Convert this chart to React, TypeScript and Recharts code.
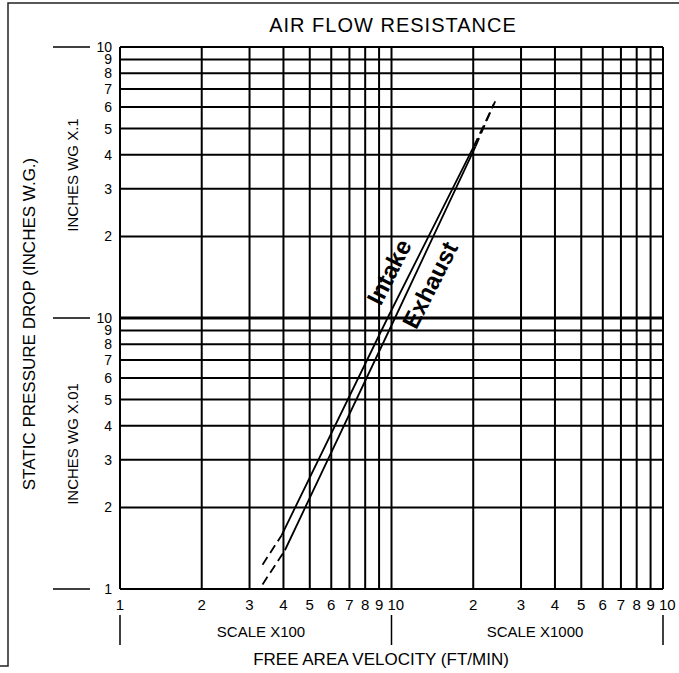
import React from "react";
import { LineChart, Line, XAxis, YAxis, ReferenceLine } from "recharts";

// free area velocity (ft/min), log scale, two decades
const xTicks = [100, 200, 300, 400, 500, 600, 700, 800, 900, 1000, 2000, 3000, 4000, 5000, 6000, 7000, 8000, 9000, 10000];
const xTickLabels = ["1", "2", "3", "4", "5", "6", "7", "8", "9", "10", "2", "3", "4", "5", "6", "7", "8", "9", "10"];
const xDecades = [100, 1000, 10000];

// static pressure drop (in. W.G.), log scale, two decades
const yTicks = [0.01, 0.02, 0.03, 0.04, 0.05, 0.06, 0.07, 0.08, 0.09, 0.1, 0.2, 0.3, 0.4, 0.5, 0.6, 0.7, 0.8, 0.9, 1];
const yTickLabels = ["1", "2", "3", "4", "5", "6", "7", "8", "9", "10", "2", "3", "4", "5", "6", "7", "8", "9", "10"];
const yDecades = [0.01, 0.1, 1];

const intakeLow = [{ v: 335, p: 0.0123 }, { v: 394, p: 0.0158 }];
const intakeSolid = [{ v: 394, p: 0.0158 }, { v: 967, p: 0.1 }, { v: 2010, p: 0.43 }];
const intakeHigh = [{ v: 2010, p: 0.43 }, { v: 2410, p: 0.63 }];

const exhaustLow = [{ v: 335, p: 0.0104 }, { v: 405, p: 0.0139 }];
const exhaustSolid = [{ v: 405, p: 0.0139 }, { v: 1030, p: 0.1 }, { v: 2040, p: 0.43 }];
const exhaustHigh = [{ v: 2040, p: 0.43 }, { v: 2380, p: 0.615 }];

const FONT = "'Liberation Sans', Arial, sans-serif";
const INK = "#000";

function XTick(props: any) {
  const { x, y, payload } = props;
  const label = xTickLabels[xTicks.indexOf(payload.value)];
  const ten = label === "10";
  return (
    <g>
      <text
        x={ten ? x - 4 : x}
        y={y + 21}
        textAnchor={ten ? "start" : "middle"}
        fontSize={15}
        fontFamily={FONT}
        fill={INK}
      >
        {label}
      </text>
      {xDecades.includes(payload.value) && (
        <line x1={x} x2={x} y1={y + 26} y2={y + 56} stroke={INK} strokeWidth={1.5} />
      )}
    </g>
  );
}

function YTick(props: any) {
  const { x, y, payload } = props;
  const label = yTickLabels[yTicks.indexOf(payload.value)];
  return (
    <g>
      <text x={x - 8} y={y} dy="0.36em" textAnchor="end" fontSize={14} fontFamily={FONT} fill={INK}>
        {label}
      </text>
      {yDecades.includes(payload.value) && (
        <line x1={x - 67} x2={x - 30} y1={y} y2={y} stroke={INK} strokeWidth={1.5} />
      )}
    </g>
  );
}

function Overlay() {
  return (
    <svg
      width={679}
      height={673}
      style={{ position: "absolute", left: 0, top: 0, pointerEvents: "none" }}
      fontFamily={FONT}
    >
      <path d="M0,666 H8 V3 H679" fill="none" stroke="#222" strokeWidth={1.5} />
      <text x={393} y={32} textAnchor="middle" fontSize={20} letterSpacing={1} fill={INK}>
        AIR FLOW RESISTANCE
      </text>
      <text x={35} y={324} textAnchor="middle" fontSize={17} fill={INK} transform="rotate(-90 35 324)">
        STATIC PRESSURE DROP (INCHES W.G.)
      </text>
      <text x={78} y={175} textAnchor="middle" fontSize={15} fill={INK} transform="rotate(-90 78 175)">
        INCHES WG X.1
      </text>
      <text x={78} y={444} textAnchor="middle" fontSize={15} fill={INK} transform="rotate(-90 78 444)">
        INCHES WG X.01
      </text>
      <text x={261} y={637} textAnchor="middle" fontSize={15} fill={INK}>
        SCALE X100
      </text>
      <text x={535} y={637} textAnchor="middle" fontSize={15} fill={INK}>
        SCALE X1000
      </text>
      <text x={381} y={665} textAnchor="middle" fontSize={17} fill={INK}>
        FREE AREA VELOCITY (FT/MIN)
      </text>
      <text
        x={389}
        y={272}
        dy="0.35em"
        textAnchor="middle"
        fontSize={24}
        fontWeight="bold"
        fill={INK}
        transform="rotate(-63 389 272)"
      >
        Intake
      </text>
      <text
        x={430}
        y={285}
        dy="0.35em"
        textAnchor="middle"
        fontSize={24}
        fontWeight="bold"
        fill={INK}
        transform="rotate(-63 430 285)"
      >
        Exhaust
      </text>
    </svg>
  );
}

const lineProps = {
  dataKey: "p",
  type: "linear" as const,
  stroke: INK,
  strokeWidth: 1.8,
  dot: false,
  activeDot: false,
  isAnimationActive: false,
};

export default function App() {
  return (
    <div style={{ position: "absolute", left: 0, top: 0, width: 679, height: 673, background: "#fff" }}>
      <LineChart width={679} height={673} margin={{ top: 47, right: 16, bottom: 4, left: 60 }}>
        <XAxis
          dataKey="v"
          type="number"
          scale="log"
          domain={[100, 10000]}
          ticks={xTicks}
          interval={0}
          height={80}
          axisLine={false}
          tickLine={false}
          tickSize={0}
          tickMargin={0}
          tick={<XTick />}
          allowDataOverflow
        />
        <YAxis
          type="number"
          scale="log"
          domain={[0.01, 1]}
          ticks={yTicks}
          interval={0}
          width={60}
          axisLine={false}
          tickLine={false}
          tickSize={0}
          tickMargin={0}
          tick={<YTick />}
          allowDataOverflow
        />
        {xTicks.map((v) => (
          <ReferenceLine key={"x" + v} x={v} stroke={INK} strokeWidth={2} />
        ))}
        {yTicks.map((v) => (
          <ReferenceLine key={"y" + v} y={v} stroke={INK} strokeWidth={v === 0.1 ? 3 : 2} />
        ))}
        <Line {...lineProps} data={intakeLow} strokeDasharray="9 5" />
        <Line {...lineProps} data={intakeSolid} />
        <Line {...lineProps} data={intakeHigh} strokeDasharray="9 5" />
        <Line {...lineProps} data={exhaustLow} strokeDasharray="9 5" />
        <Line {...lineProps} data={exhaustSolid} />
        <Line {...lineProps} data={exhaustHigh} strokeDasharray="9 5" />
      </LineChart>
      <Overlay />
    </div>
  );
}
